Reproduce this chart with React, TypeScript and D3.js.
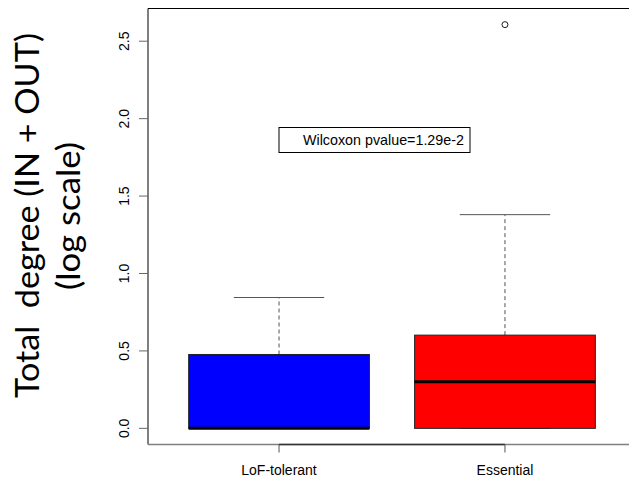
import React from "react";
import * as d3 from "d3";

// Box-plot summaries (log10 of total degree) per gene group
const categories = ["LoF-tolerant", "Essential"];
const lowerWhisker = [0, 0];
const q1 = [0, 0];
const medians = [0, 0.301];
const q3 = [0.477, 0.602];
const upperWhisker = [0.845, 1.38];
const outliers: number[][] = [[], [2.607]];
const boxColors = ["#0000ff", "#ff0000"];
const yTicks = [0, 0.5, 1, 1.5, 2, 2.5];
const legendText = "Wilcoxon pvalue=1.29e-2";
const titleLines = ["Total  degree (IN + OUT)", "(log scale)"];

const W = 629;
const H = 479;
const plotLeft = 148;
const plotRight = 636;
const plotTop = 8.5;
const plotBottom = 444.5;

export default function App() {
  const allVals = [...lowerWhisker, ...upperWhisker, ...outliers.flat()];
  const lo = d3.min(allVals) as number;
  const hi = d3.max(allVals) as number;
  const pad = (hi - lo) * 0.04;

  const y = d3.scaleLinear().domain([lo - pad, hi + pad]).range([plotBottom, plotTop]);
  const x = d3
    .scaleLinear()
    .domain([0.5 - 0.08, categories.length + 0.5 + 0.08])
    .range([plotLeft, plotRight]);

  const boxW = 0.8;
  const capW = 0.4;
  const fmt = d3.format(".1f");
  const sans = "'Liberation Sans', Arial, sans-serif";
  const titleFont = "Lato, 'Open Sans', sans-serif";

  return (
    <div style={{ position: "absolute", left: 0, top: 0 }}>
      <svg width={W} height={H} style={{ display: "block", background: "#fff" }}>
        <rect x={0} y={0} width={W} height={H} fill="#fff" />

        {/* boxes */}
        {categories.map((c, i) => {
          const cx = x(i + 1);
          return (
            <g key={c}>
              {/* whiskers */}
              <line x1={cx} x2={cx} y1={y(q3[i])} y2={y(upperWhisker[i])} stroke="#555" strokeDasharray="4,3" />
              <line x1={cx} x2={cx} y1={y(q1[i])} y2={y(lowerWhisker[i])} stroke="#555" strokeDasharray="4,3" />
              <line x1={x(i + 1 - capW / 2)} x2={x(i + 1 + capW / 2)} y1={y(upperWhisker[i])} y2={y(upperWhisker[i])} stroke="#555" />
              <line x1={x(i + 1 - capW / 2)} x2={x(i + 1 + capW / 2)} y1={y(lowerWhisker[i])} y2={y(lowerWhisker[i])} stroke="#555" />
              <rect
                x={x(i + 1 - boxW / 2)}
                y={y(q3[i])}
                width={x(i + 1 + boxW / 2) - x(i + 1 - boxW / 2)}
                height={y(q1[i]) - y(q3[i])}
                fill={boxColors[i]}
                stroke="#222"
                strokeWidth={1}
              />
              <line
                x1={x(i + 1 - boxW / 2)}
                x2={x(i + 1 + boxW / 2)}
                y1={y(medians[i])}
                y2={y(medians[i])}
                stroke="#000"
                strokeWidth={3}
              />
              {outliers[i].map((v, k) => (
                <circle key={k} cx={cx} cy={y(v)} r={3} fill="none" stroke="#000" strokeWidth={0.9} />
              ))}
            </g>
          );
        })}

        {/* plot frame */}
        <line x1={plotLeft} x2={plotRight} y1={plotTop} y2={plotTop} stroke="#000" />
        <line x1={plotLeft} x2={plotLeft} y1={plotTop} y2={plotBottom} stroke="#000" />
        <line x1={plotRight} x2={plotRight} y1={plotTop} y2={plotBottom} stroke="#000" />
        <line x1={plotLeft} x2={plotRight} y1={plotBottom} y2={plotBottom} stroke="#808080" strokeWidth={1.5} />

        {/* x axis */}
        <line x1={x(1)} x2={x(categories.length)} y1={plotBottom} y2={plotBottom} stroke="#333" strokeWidth={1.5} />
        {categories.map((c, i) => (
          <g key={c}>
            <line x1={x(i + 1)} x2={x(i + 1)} y1={plotBottom} y2={plotBottom + 8} stroke="#555" />
            <text x={x(i + 1)} y={475} textAnchor="middle" fontFamily={sans} fontSize={14} fill="#000">
              {c}
            </text>
          </g>
        ))}

        {/* y axis */}
        {yTicks.map((t) => (
          <g key={t}>
            <line x1={plotLeft - 9} x2={plotLeft} y1={y(t)} y2={y(t)} stroke="#666" />
            <text
              transform={`translate(128.5,${y(t)}) rotate(-90)`}
              textAnchor="middle"
              fontFamily={sans}
              fontSize={14}
              fill="#000"
            >
              {fmt(t)}
            </text>
          </g>
        ))}

        {/* y axis title */}
        <text
          transform={`translate(39,215.5) rotate(-90)`}
          textAnchor="middle"
          fontFamily={titleFont}
          fontSize={32}
          fill="#000"
          textLength={365}
          lengthAdjust="spacingAndGlyphs"
          style={{ whiteSpace: "pre" }}
        >
          {titleLines[0]}
        </text>
        <text
          transform={`translate(80,216) rotate(-90)`}
          textAnchor="middle"
          fontFamily={titleFont}
          fontSize={32}
          fill="#000"
          textLength={148}
          lengthAdjust="spacingAndGlyphs"
        >
          {titleLines[1]}
        </text>

        {/* legend */}
        <rect x={279} y={127.5} width={191} height={25} fill="#fff" stroke="#000" />
        <text x={303} y={145} fontFamily={sans} fontSize={14.3} fill="#000">
          {legendText}
        </text>
      </svg>
    </div>
  );
}
